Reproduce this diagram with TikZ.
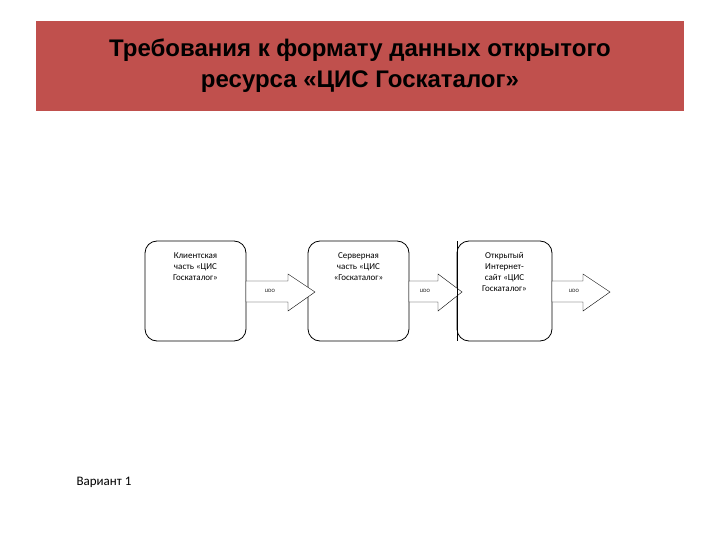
\documentclass[tikz,border=0pt]{standalone}
\usepackage{fontspec}
\setmainfont{Carlito}
\newfontfamily\titlefont{Liberation Sans}
\definecolor{banner}{HTML}{C0504D}
\begin{document}
\begin{tikzpicture}[x=1pt,y=-1pt,
  box/.style={draw,thick,rounded corners=12pt},
  boxtext/.style={align=center,font=\fontsize{9}{11}\selectfont},
  fat/.style={draw,fill=white,thin},
  lido/.style={font=\fontsize{5}{6}\selectfont}]
\useasboundingbox (0,0) rectangle (720,540);
\fill[banner] (36,21) rectangle (684,111);
\node[font=\titlefont\bfseries\fontsize{24}{31}\selectfont,align=center] (title) at (360,66) {Требования к формату данных открытого\\ресурса «ЦИС Госкаталог»};
\draw[box] (145,241) rectangle (246,341);
\draw[box] (308,241) rectangle (409,341);
\draw[box] (457,241) rectangle (552,341);
\node[boxtext,anchor=north] (b1) at (195.5,249) {Клиентская\\часть «ЦИС\\Госкаталог»};
\node[boxtext,anchor=north] (b2) at (358.5,249) {Серверная\\часть «ЦИС\\«Госкаталог»};
\node[boxtext,anchor=north] (b3) at (504.5,249) {Открытый\\Интернет-\\сайт «ЦИС\\Госкаталог»};
\draw[fat] (246,281) -- (288,281) -- (288,274) -- (315,292) -- (288,311) -- (288,302) -- (246,302) -- cycle;
\draw[fat] (409,281) -- (438,281) -- (438,274) -- (462,292) -- (438,311) -- (438,302) -- (409,302) -- cycle;
\draw[fat] (552,281) -- (583,281) -- (583,274) -- (610,292) -- (583,311) -- (583,302) -- (552,302) -- cycle;
\draw[box] (457,241) -- (457,341);
\node[lido] (l1) at (270,291) {LIDO};
\node[lido] (l2) at (425,291) {LIDO};
\node[lido] (l3) at (574,291) {LIDO};
\node[font=\fontsize{13}{15}\selectfont,anchor=west] (v) at (73,482) {Вариант 1};
\end{tikzpicture}
\end{document}
